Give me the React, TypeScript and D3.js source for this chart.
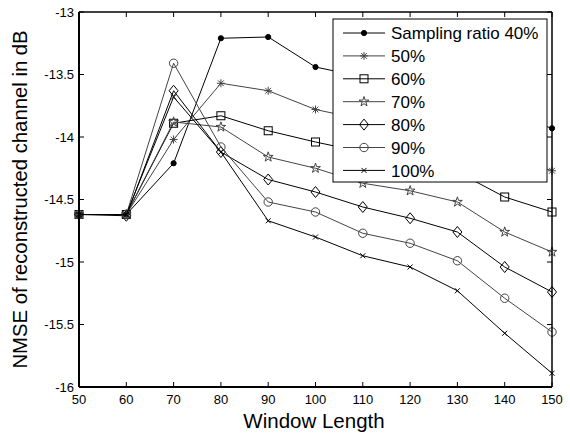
import * as d3 from "d3";

// window lengths on the x axis
const windowLengths = [50, 60, 70, 80, 90, 100, 110, 120, 130, 140, 150];
const xTicks = [50, 60, 70, 80, 90, 100, 110, 120, 130, 140, 150];
const yTicks = [-13, -13.5, -14, -14.5, -15, -15.5, -16];

// NMSE in dB per sampling ratio
const ratio40 = [-14.62, -14.62, -14.21, -13.21, -13.2, -13.44, -13.52, -13.6, -13.68, -13.81, -13.93];
const ratio50 = [-14.62, -14.62, -14.02, -13.57, -13.63, -13.78, -13.86, -13.93, -14.01, -14.14, -14.27];
const ratio60 = [-14.62, -14.62, -13.89, -13.83, -13.95, -14.04, -14.12, -14.2, -14.28, -14.48, -14.6];
const ratio70 = [-14.62, -14.62, -13.88, -13.92, -14.16, -14.25, -14.37, -14.43, -14.52, -14.76, -14.92];
const ratio80 = [-14.62, -14.63, -13.63, -14.12, -14.34, -14.44, -14.56, -14.65, -14.76, -15.04, -15.24];
const ratio90 = [-14.62, -14.62, -13.41, -14.08, -14.52, -14.6, -14.77, -14.85, -14.99, -15.29, -15.56];
const ratio100 = [-14.62, -14.62, -13.68, -14.12, -14.67, -14.8, -14.95, -15.04, -15.23, -15.57, -15.89];

const seriesNames = ["Sampling ratio 40%", "50%", "60%", "70%", "80%", "90%", "100%"];
const seriesValues = [ratio40, ratio50, ratio60, ratio70, ratio80, ratio90, ratio100];
const seriesMarkers = ["dot", "asterisk", "square", "star", "diamond", "circle", "cross"];
const seriesColors = ["#000", "#444", "#000", "#444", "#000", "#444", "#000"];

const font = "Arial, 'Liberation Sans', sans-serif";

const left = 79;
const right = 552;
const top = 12;
const bottom = 387;

const Marker = ({ type, x, y, color }: { type: string; x: number; y: number; color: string }) => {
  const t = `translate(${x},${y})`;
  switch (type) {
    case "dot":
      return <circle cx={x} cy={y} r={2.6} fill={color} stroke={color} />;
    case "asterisk":
      return (
        <path
          transform={t}
          d="M-4,0H4M0,-4V4M-2.9,-2.9L2.9,2.9M-2.9,2.9L2.9,-2.9"
          stroke={color}
          strokeWidth={1}
          fill="none"
        />
      );
    case "square":
      return <rect x={x - 4} y={y - 4} width={8} height={8} fill="none" stroke={color} />;
    case "star":
      return (
        <path
          transform={t}
          d={d3.symbol(d3.symbolStar, 30)() as string}
          fill="none"
          stroke={color}
        />
      );
    case "diamond":
      return <path transform={t} d="M0,-5.5L4.5,0L0,5.5L-4.5,0Z" fill="none" stroke={color} />;
    case "circle":
      return <circle cx={x} cy={y} r={4.2} fill="none" stroke={color} />;
    default:
      return <path transform={t} d="M-2.5,-2.5L2.5,2.5M-2.5,2.5L2.5,-2.5" stroke={color} fill="none" />;
  }
};

const App = () => {
  const w = 570;
  const h = 434;

  const xScale = d3.scaleLinear().domain([50, 150]).range([left, right]);
  const yScale = d3.scaleLinear().domain([-16, -13]).range([bottom, top]);

  const line = d3
    .line<number>()
    .x((_, i) => xScale(windowLengths[i]))
    .y((d) => yScale(d));

  // legend placement
  const lgX = 333;
  const lgY = 19;
  const lgW = 214;
  const lgH = 163;
  const rowH = 22.9;

  return (
    <svg width={w} height={h} style={{ position: "absolute", left: 0, top: 0, background: "#fff" }} fontFamily={font}>
      <rect x={0} y={0} width={w} height={h} fill="#fff" />

      {/* series */}
      {seriesValues.map((vals, s) => (
        <g key={s}>
          <path d={line(vals) as string} fill="none" stroke={seriesColors[s]} strokeWidth={1} />
          {vals.map((v, i) => (
            <Marker key={i} type={seriesMarkers[s]} x={xScale(windowLengths[i])} y={yScale(v)} color={seriesColors[s]} />
          ))}
        </g>
      ))}

      {/* ticks, inside on all four sides */}
      {xTicks.map((t) => (
        <g key={"x" + t}>
          <line x1={xScale(t)} x2={xScale(t)} y1={bottom} y2={bottom - 5} stroke="#000" />
          <line x1={xScale(t)} x2={xScale(t)} y1={top} y2={top + 5} stroke="#000" />
          <text x={xScale(t)} y={404} textAnchor="middle" fontSize={13}>
            {t}
          </text>
        </g>
      ))}
      {yTicks.map((t) => (
        <g key={"y" + t}>
          <line x1={left} x2={left + 5} y1={yScale(t)} y2={yScale(t)} stroke="#000" />
          <line x1={right} x2={right - 5} y1={yScale(t)} y2={yScale(t)} stroke="#000" />
          <text x={74} y={yScale(t)} dy="0.35em" textAnchor="end" fontSize={13}>
            {t}
          </text>
        </g>
      ))}

      {/* axes box */}
      <line x1={left} x2={right} y1={top} y2={top} stroke="#000" strokeWidth={1.3} />
      <line x1={right} x2={right} y1={top} y2={bottom} stroke="#000" strokeWidth={1.5} />
      <line x1={left} x2={left} y1={top} y2={bottom} stroke="#000" strokeWidth={2} />
      <line x1={left} x2={right} y1={bottom} y2={bottom} stroke="#000" strokeWidth={2} />

      {/* legend */}
      <rect x={lgX} y={lgY} width={lgW} height={lgH} fill="#fff" stroke="#000" strokeWidth={1} />
      {seriesNames.map((name, s) => {
        const cy = lgY + 14 + s * rowH;
        return (
          <g key={name}>
            <line x1={343} x2={385} y1={cy} y2={cy} stroke={seriesColors[s]} strokeWidth={1} />
            <Marker type={seriesMarkers[s]} x={364} y={cy} color={seriesColors[s]} />
            <text x={391} y={cy} dy="0.36em" fontSize={17}>
              {name}
            </text>
          </g>
        );
      })}

      {/* axis labels */}
      <text x={314} y={428} textAnchor="middle" fontSize={20.5}>
        Window Length
      </text>
      <text transform={`translate(27,${(top + bottom) / 2}) rotate(-90)`} textAnchor="middle" fontSize={20.3}>
        NMSE of reconstructed channel in dB
      </text>
    </svg>
  );
};

export default App;
